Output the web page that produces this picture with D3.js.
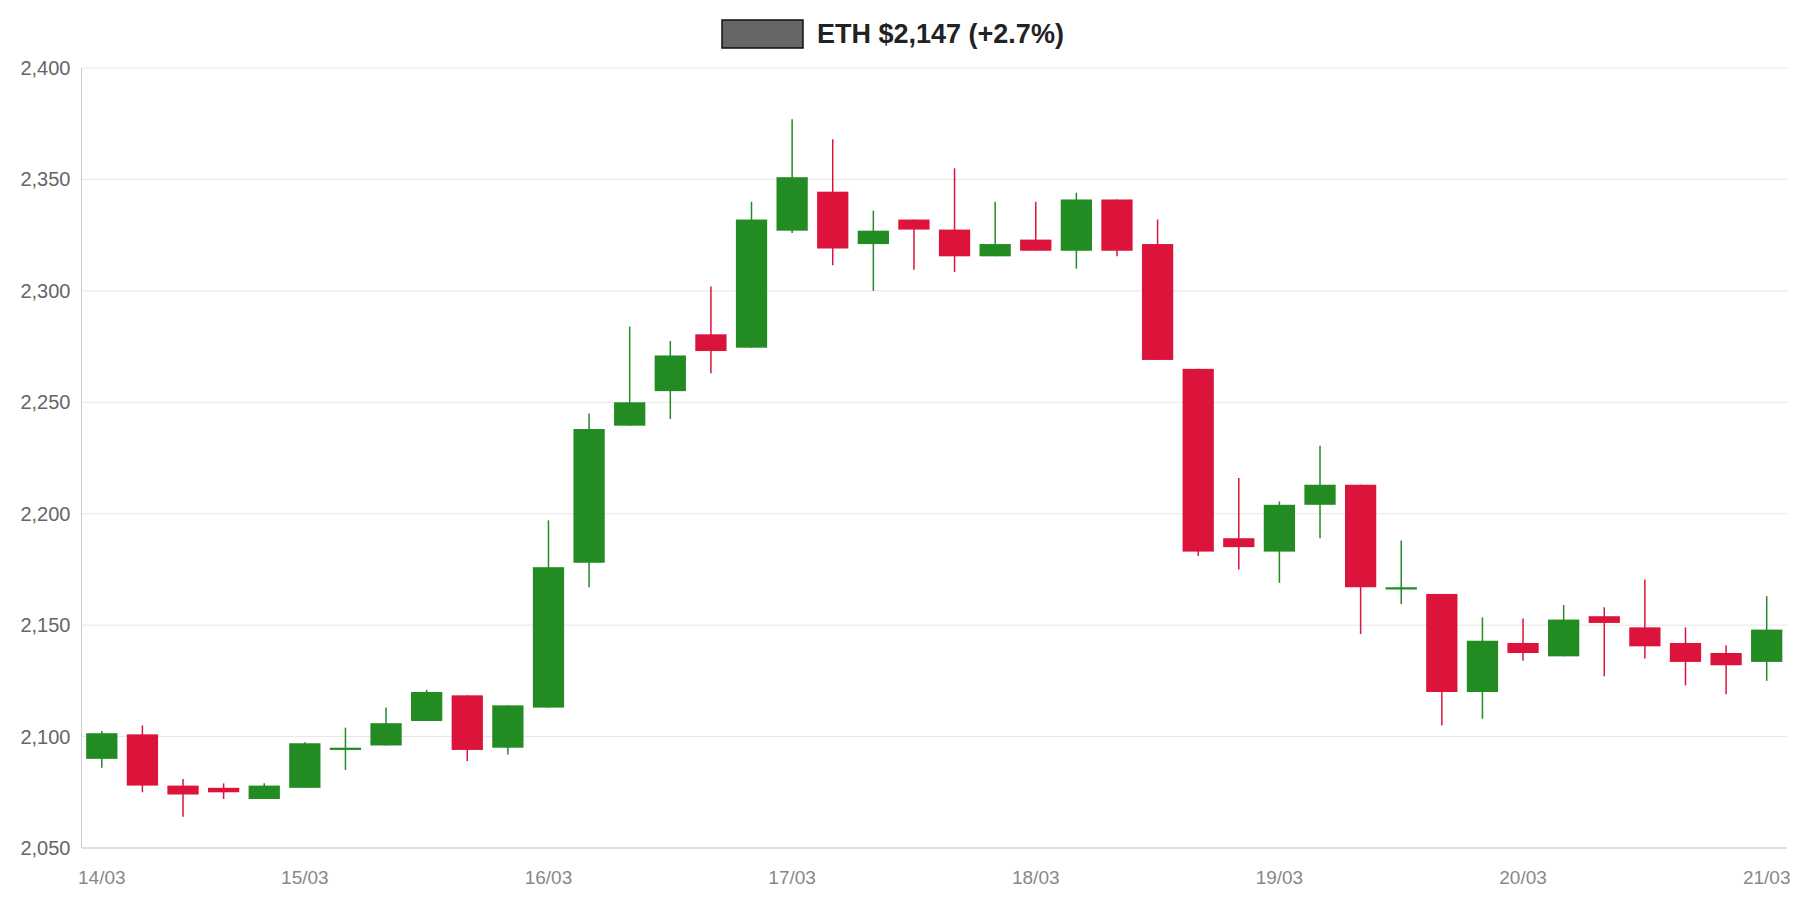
<!DOCTYPE html>
<html>
<head>
<meta charset="utf-8">
<title>ETH candles</title>
<script src="https://d3js.org/d3.v7.min.js"></script>
<style>body{margin:0;background:#fff;font-family:"Liberation Sans",Arial,sans-serif}</style>
</head>
<body>
<div id="chart"></div>
<script>
// 4h candles, first one at 14/03 04:00
let opens  = [2090,2101,2078,2077,2072,2077,2094,2096,2107,2118.5,2095,2113,2178,2239.5,2255,2280.5,2274.5,2327,2344.5,2321,2332,2327.5,2315.5,2323,2318,2341,2321,2265,2189,2183,2204,2213,2166,2164,2120,2142,2136,2154,2149,2142,2137.5,2133.5];
let closes = [2101.5,2078,2074,2075,2078,2097,2095,2106,2120,2094,2114,2176,2238,2250,2271,2273,2332,2351,2319,2327,2327.5,2315.5,2321,2318,2341,2318,2269,2183,2185,2204,2213,2167,2167,2120,2143,2137.5,2152.5,2151,2140.5,2133.5,2132,2148];
let highs  = [2102.5,2105,2081,2079,2079,2097.5,2104,2113,2121,2118.5,2114,2197,2245,2284,2277.5,2302,2340,2377,2368,2336,2332,2355,2340,2340,2344,2341,2332,2265,2216,2205.5,2230.5,2213,2188,2164,2153.5,2153,2159,2158,2170.5,2149,2141,2163];
let lows   = [2086,2075,2064,2072,2072,2077,2085,2096,2107,2089,2092,2113,2167,2239.5,2242.5,2263,2274.5,2326,2311.5,2300,2309.5,2308.5,2315.5,2318,2310,2315.5,2269,2181,2175,2169,2189,2146,2159.5,2105,2108,2134,2136,2127,2135,2123,2119,2125];
let dayLabels = ["14/03","15/03","16/03","17/03","18/03","19/03","20/03","21/03"];
let yTicks = [2050,2100,2150,2200,2250,2300,2350,2400];

let W = 1800, H = 900;
let margin = {top: 68, right: 13, bottom: 52, left: 81.5};
let w = W - margin.left - margin.right, h = H - margin.top - margin.bottom;
let H4 = 4*3600*1000;
let t0 = new Date(2024,2,14,4).getTime();
let data = opens.map((o,i)=>({t: t0 + i*H4, o: o, c: closes[i], hi: highs[i], lo: lows[i]}));

let svg = d3.select("#chart").append("svg").attr("width", W).attr("height", H);
let g = svg.append("g").attr("transform", "translate(" + margin.left + "," + margin.top + ")");

let x = d3.scaleTime().domain([t0 - H4/2, data[data.length-1].t + H4/2]).range([0, w]);
let y = d3.scaleLinear().domain([2050, 2400]).range([h, 0]);

g.selectAll(".grid").data(yTicks).enter().append("line")
  .attr("x1", 0).attr("x2", w).attr("y1", d=>y(d)).attr("y2", d=>y(d))
  .attr("stroke", "#e6e6e6").attr("stroke-width", 1);
g.append("line").attr("x1",0).attr("x2",0).attr("y1",0).attr("y2",h).attr("stroke","#ccc");
g.append("line").attr("x1",0).attr("x2",w).attr("y1",h).attr("y2",h).attr("stroke","#ccc");

g.selectAll(".yl").data(yTicks).enter().append("text")
  .attr("x", -11).attr("y", d=>y(d)).attr("dy","0.35em").attr("text-anchor","end")
  .attr("font-size", 20).attr("fill", "#666").text(d3.format(",")(0) && (d=>d3.format(",")(d)));

g.selectAll(".xl").data(dayLabels).enter().append("text")
  .attr("x", (d,i)=>Math.max(x(new Date(2024,2,14+i).getTime()), x(t0)))
  .attr("y", h + 36).attr("text-anchor","middle")
  .attr("font-size", 19).attr("fill", "#888").text(d=>d);

let bw = x(t0 + H4) - x(t0);
let col = d => d.c >= d.o ? "#228b22" : "#dc143c";
let cg = g.selectAll(".candle").data(data).enter().append("g");
cg.append("line").attr("x1", d=>x(d.t)).attr("x2", d=>x(d.t))
  .attr("y1", d=>y(d.hi)).attr("y2", d=>y(d.lo)).attr("stroke", col).attr("stroke-width", 1.5);
cg.append("rect").attr("x", d=>x(d.t) - bw*0.385).attr("width", bw*0.77)
  .attr("y", d=>y(Math.max(d.o,d.c))).attr("height", d=>Math.max(1.5, Math.abs(y(d.o)-y(d.c))))
  .attr("fill", col);

svg.append("rect").attr("x", 722).attr("y", 20).attr("width", 81).attr("height", 28)
  .attr("fill", "#666").attr("stroke", "#111").attr("stroke-width", 1.5);
svg.append("text").attr("x", 817).attr("y", 43).attr("font-size", 27).attr("font-weight","bold")
  .attr("fill", "#222").text("ETH $2,147 (+2.7%)");
</script>
</body>
</html>
